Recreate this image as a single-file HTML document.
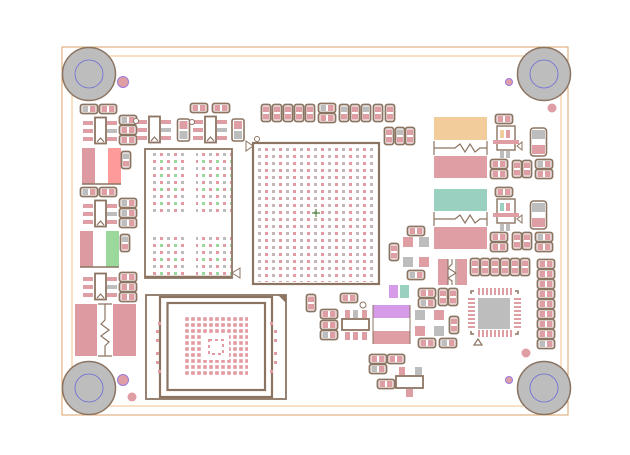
<!DOCTYPE html>
<html><head><meta charset="utf-8"><style>html,body{margin:0;padding:0;background:#fff}svg{display:block}</style></head>
<body>
<svg width="630" height="455" viewBox="0 0 630 455" xmlns="http://www.w3.org/2000/svg">
<defs>
<pattern id="bga" x="256" y="146" width="7" height="7" patternUnits="userSpaceOnUse"><rect x="2" y="2" width="3" height="3" fill="#e39aa2"/></pattern>
<pattern id="bga2" x="256" y="146" width="14" height="7" patternUnits="userSpaceOnUse"><rect x="2" y="2" width="3" height="3" fill="#bdbdbd"/></pattern>
<pattern id="lb" x="151" y="151" width="7" height="7" patternUnits="userSpaceOnUse"><rect x="2" y="2" width="3" height="3" fill="#e39aa2"/></pattern>
<pattern id="lbg" x="151" y="151" width="14" height="14" patternUnits="userSpaceOnUse"><rect x="2" y="2" width="3" height="3" fill="#bdbdbd"/><rect x="9" y="9" width="3" height="3" fill="#9bd89b"/></pattern>
<pattern id="bc" x="184" y="316" width="6" height="6" patternUnits="userSpaceOnUse"><rect x="1.2" y="1.2" width="3.6" height="3.6" fill="#e39aa2"/></pattern>
<symbol id="vp" viewBox="0 0 10 18" overflow="visible"><rect x="0.5" y="0.5" width="9" height="17" rx="2" fill="#fff" stroke="#8c7462" stroke-width="1.8"/><rect x="2" y="2.5" width="6" height="5.5" fill="#df9da4"/><rect x="2" y="10" width="6" height="5.5" fill="#df9da4"/></symbol>
<symbol id="vpg" viewBox="0 0 10 18" overflow="visible"><rect x="0.5" y="0.5" width="9" height="17" rx="2" fill="#fff" stroke="#8c7462" stroke-width="1.8"/><rect x="2" y="2.5" width="6" height="5.5" fill="#bdbdbd"/><rect x="2" y="10" width="6" height="5.5" fill="#df9da4"/></symbol>
<symbol id="hp" viewBox="0 0 18 10" overflow="visible"><rect x="0.5" y="0.5" width="17" height="9" rx="2" fill="#fff" stroke="#8c7462" stroke-width="1.8"/><rect x="2.5" y="2" width="5.5" height="6" fill="#df9da4"/><rect x="10" y="2" width="5.5" height="6" fill="#df9da4"/></symbol>
<symbol id="hpg" viewBox="0 0 18 10" overflow="visible"><rect x="0.5" y="0.5" width="17" height="9" rx="2" fill="#fff" stroke="#8c7462" stroke-width="1.8"/><rect x="2.5" y="2" width="5.5" height="6" fill="#bdbdbd"/><rect x="10" y="2" width="5.5" height="6" fill="#df9da4"/></symbol>
<symbol id="sot" viewBox="0 0 36 28" overflow="visible"><rect x="0" y="4" width="10" height="4" fill="#df9da4"/><rect x="0" y="12" width="10" height="4" fill="#df9da4"/><rect x="0" y="20" width="10" height="4" fill="#df9da4"/><rect x="24" y="4" width="10" height="4" fill="#df9da4"/><rect x="24" y="12" width="10" height="4" fill="#bdbdbd"/><rect x="24" y="20" width="10" height="4" fill="#df9da4"/><rect x="12" y="0.5" width="11" height="26" fill="#fff" stroke="#8c7462" stroke-width="1.8"/><path d="M14 25 L17.5 21 L21 25" fill="none" stroke="#8c7462" stroke-width="1.2"/></symbol>
<symbol id="mount" viewBox="0 0 56 56" overflow="visible"><circle cx="28" cy="28" r="26.5" fill="#bdbdbd" stroke="#8c7462" stroke-width="1.5"/><circle cx="28" cy="28" r="14" fill="none" stroke="#6a6ad8" stroke-width="0.8"/></symbol>
</defs>

<rect x="62" y="47" width="506" height="368" fill="none" stroke="#d9a36a" stroke-width="1"/>
<rect x="72" y="56" width="489" height="350" fill="none" stroke="#f2c08a" stroke-width="1"/>

<use href="#mount" x="61" y="46" width="56" height="56"/>
<use href="#mount" x="516" y="46" width="56" height="56"/>
<use href="#mount" x="61" y="360" width="56" height="56"/>
<use href="#mount" x="516" y="360" width="56" height="56"/>
<circle cx="123" cy="82" r="5.5" fill="#df9da4" stroke="#9a7ae0" stroke-width="1"/>
<circle cx="123" cy="380" r="5.5" fill="#df9da4" stroke="#9a7ae0" stroke-width="1"/>
<circle cx="509" cy="82" r="3.5" fill="#df9da4" stroke="#9a7ae0" stroke-width="1"/>
<circle cx="509" cy="380" r="3.5" fill="#df9da4" stroke="#9a7ae0" stroke-width="1"/>
<circle cx="552" cy="108" r="4.5" fill="#df9da4"/>
<circle cx="526" cy="353" r="4.5" fill="#df9da4"/>
<circle cx="132" cy="397" r="4.5" fill="#df9da4"/>

<use href="#hpg" x="80" y="104" width="18" height="10"/>
<use href="#hp" x="99" y="104" width="18" height="10"/>
<use href="#sot" x="83" y="117" width="36" height="28"/>
<use href="#hpg" x="119" y="115" width="18" height="10"/>
<use href="#hp" x="119" y="125" width="18" height="10"/>
<use href="#hp" x="119" y="135" width="18" height="10"/>
<rect x="82" y="148" width="13" height="36" fill="#dd9aa0"/><rect x="108" y="148" width="13" height="36" fill="#ff9a9a"/><line x1="82" y1="184" x2="121" y2="184" stroke="#8c7462" stroke-width="1.5"/>
<use href="#vpg" x="121" y="151" width="10" height="18"/>

<use href="#hpg" x="80" y="187" width="18" height="10"/>
<use href="#hp" x="99" y="187" width="18" height="10"/>
<use href="#sot" x="83" y="200" width="36" height="28"/>
<use href="#hpg" x="119" y="198" width="18" height="10"/>
<use href="#hpg" x="119" y="208" width="18" height="10"/>
<use href="#hpg" x="119" y="218" width="18" height="10"/>
<rect x="80" y="231" width="13" height="36" fill="#dd9aa0"/><rect x="106" y="231" width="13" height="36" fill="#9bd89b"/><line x1="80" y1="267" x2="119" y2="267" stroke="#8c7462" stroke-width="1.5"/>
<use href="#vpg" x="120" y="234" width="10" height="18"/>

<use href="#sot" x="83" y="273" width="36" height="28"/>
<use href="#hp" x="119" y="272" width="18" height="10"/>
<use href="#hp" x="119" y="282" width="18" height="10"/>
<use href="#hp" x="119" y="292" width="18" height="10"/>
<rect x="75" y="304" width="22" height="52" fill="#dd9aa0"/><rect x="113" y="304" width="23" height="52" fill="#dd9aa0"/>
<path d="M98 304 H112 M98 356 H112 M105 304 V320 L101 324 L109 330 L101 336 L109 342 L105 346 V356" fill="none" stroke="#8c7462" stroke-width="1.2"/>

<use href="#hp" x="190" y="103" width="18" height="10"/>
<use href="#hp" x="212" y="103" width="18" height="10"/>
<use href="#sot" x="137" y="116" width="36" height="28"/>
<use href="#sot" x="193" y="116" width="36" height="28"/>
<rect x="177.5" y="119" width="12" height="22" rx="2" fill="#fff" stroke="#8c7462" stroke-width="1.6"/><rect x="179.5" y="121" width="8" height="8" fill="#df9da4"/><rect x="179.5" y="131" width="8" height="8" fill="#bdbdbd"/>
<rect x="232" y="119" width="12" height="22" rx="2" fill="#fff" stroke="#8c7462" stroke-width="1.6"/><rect x="234" y="121" width="8" height="8" fill="#df9da4"/><rect x="234" y="131" width="8" height="8" fill="#bdbdbd"/>
<circle cx="192" cy="122" r="2.5" fill="#fff" stroke="#8c7462"/><circle cx="136" cy="121" r="2.5" fill="#fff" stroke="#8c7462"/><circle cx="257" cy="139" r="2.5" fill="#fff" stroke="#8c7462"/>

<rect x="145" y="149" width="87" height="129" fill="#fff" stroke="#8c7462" stroke-width="1.8"/>
<line x1="145" y1="277" x2="232" y2="277" stroke="#8c7462" stroke-width="2.5"/>
<rect x="151" y="151" width="35" height="63" fill="url(#lb)"/><rect x="151" y="151" width="35" height="63" fill="url(#lbg)"/>
<rect x="196" y="151" width="35" height="63" fill="url(#lb)"/><rect x="196" y="151" width="35" height="63" fill="url(#lbg)"/>
<rect x="151" y="235" width="35" height="42" fill="url(#lb)"/><rect x="151" y="235" width="35" height="42" fill="url(#lbg)"/>
<rect x="196" y="235" width="35" height="42" fill="url(#lb)"/><rect x="196" y="235" width="35" height="42" fill="url(#lbg)"/>
<path d="M240 268 L232 273 L240 278 Z" fill="#fff" stroke="#8c7462"/>

<use href="#vp" x="261" y="104" width="10" height="18"/>
<use href="#vp" x="272" y="104" width="10" height="18"/>
<use href="#vp" x="283" y="104" width="10" height="18"/>
<use href="#vp" x="294" y="104" width="10" height="18"/>
<use href="#vp" x="305" y="104" width="10" height="18"/>
<use href="#hpg" x="318" y="103" width="18" height="10"/>
<use href="#hp" x="318" y="113" width="18" height="10"/>
<use href="#vpg" x="339" y="104" width="10" height="18"/>
<use href="#vp" x="350" y="104" width="10" height="18"/>
<use href="#vpg" x="361" y="104" width="10" height="18"/>
<use href="#vp" x="373" y="104" width="10" height="18"/>
<use href="#vp" x="385" y="104" width="10" height="18"/>
<use href="#vp" x="384" y="127" width="10" height="18"/>
<use href="#vpg" x="395" y="127" width="10" height="18"/>
<use href="#vp" x="405" y="127" width="10" height="18"/>

<rect x="253" y="143" width="126" height="141" fill="#fff" stroke="#8c7462" stroke-width="2.2"/>
<rect x="256" y="146" width="121" height="136" fill="url(#bga)"/>
<rect x="256" y="146" width="121" height="136" fill="url(#bga2)" opacity="0.8"/>
<path d="M246 141 L253 146 L246 151 Z" fill="#fff" stroke="#8c7462"/>
<path d="M312 213 H320 M316 209 V217" stroke="#5a8a4a" stroke-width="1.2"/>

<rect x="146" y="295" width="140" height="104" fill="#fff" stroke="#8c7462" stroke-width="1.8"/>
<rect x="160" y="297" width="112" height="100" fill="none" stroke="#8c7462" stroke-width="2.2"/>
<rect x="167.5" y="303" width="97.5" height="87" fill="none" stroke="#8c7462" stroke-width="2.2"/>
<path d="M278 295 H286 V303 Z" fill="#8c7462"/>
<rect x="185" y="316" width="63" height="61" fill="url(#bc)"/>
<rect x="203" y="334" width="26" height="26" fill="#fff"/>
<rect x="209" y="340" width="14" height="14" fill="none" stroke="#e39aa2" stroke-width="2" stroke-dasharray="3 3"/>
<g fill="#e39aa2"><rect x="158" y="322" width="3" height="3"/><rect x="156" y="330" width="3" height="3"/><rect x="156" y="339" width="3" height="3"/><rect x="156" y="352" width="3" height="3"/><rect x="156" y="361" width="3" height="3"/><rect x="158" y="370" width="3" height="3"/><rect x="270" y="322" width="3" height="3"/><rect x="274" y="330" width="3" height="3"/><rect x="274" y="339" width="3" height="3"/><rect x="274" y="352" width="3" height="3"/><rect x="274" y="361" width="3" height="3"/><rect x="270" y="370" width="3" height="3"/></g>

<use href="#vp" x="306" y="294" width="10" height="18"/>
<use href="#hp" x="340" y="293" width="18" height="10"/>
<circle cx="363" cy="305" r="3" fill="#fff" stroke="#8c7462"/>
<use href="#hp" x="320" y="309" width="18" height="10"/>
<use href="#hp" x="320" y="320" width="18" height="10"/>
<use href="#hpg" x="320" y="330" width="18" height="10"/>
<rect x="345" y="310" width="5" height="8" fill="#df9da4"/><rect x="353" y="310" width="5" height="8" fill="#bdbdbd"/><rect x="362" y="310" width="5" height="8" fill="#df9da4"/>
<rect x="345" y="332" width="5" height="8" fill="#df9da4"/><rect x="353" y="332" width="5" height="8" fill="#df9da4"/><rect x="362" y="332" width="5" height="8" fill="#df9da4"/>
<rect x="342" y="319" width="27" height="11" fill="#fff" stroke="#8c7462" stroke-width="1.8"/>
<rect x="373" y="305" width="37" height="13" fill="#d59ae8"/><rect x="373" y="331" width="37" height="13" fill="#df9da4"/><line x1="373" y1="305" x2="373" y2="344" stroke="#8c7462"/><line x1="410" y1="305" x2="410" y2="344" stroke="#8c7462"/>
<rect x="389" y="285" width="9" height="13" fill="#d59ae8"/><rect x="400" y="285" width="9" height="13" fill="#99d0c0"/>

<use href="#hp" x="369" y="354" width="18" height="10"/>
<use href="#hp" x="387" y="354" width="18" height="10"/>
<use href="#hpg" x="369" y="364" width="18" height="10"/>
<use href="#hp" x="377" y="379" width="18" height="10"/>
<rect x="399" y="367" width="6" height="8" fill="#df9da4"/><rect x="415" y="367" width="7" height="8" fill="#bdbdbd"/>
<rect x="396" y="376" width="27" height="12" fill="#fff" stroke="#8c7462" stroke-width="1.8"/>
<rect x="406" y="389" width="7" height="8" fill="#df9da4"/>

<use href="#hp" x="407" y="226" width="18" height="10"/>
<use href="#vp" x="389" y="243" width="10" height="18"/>
<rect x="403" y="237" width="10" height="10" fill="#df9da4"/><rect x="419" y="237" width="10" height="10" fill="#bdbdbd"/>
<rect x="403" y="257" width="10" height="10" fill="#bdbdbd"/><rect x="419" y="257" width="10" height="10" fill="#df9da4"/>
<use href="#hpg" x="407" y="270" width="18" height="10"/>
<use href="#hp" x="418" y="288" width="18" height="10"/>
<use href="#hpg" x="418" y="298" width="18" height="10"/>
<use href="#vp" x="438" y="288" width="10" height="18"/>
<use href="#vp" x="448" y="288" width="10" height="18"/>
<rect x="415" y="310" width="10" height="10" fill="#bdbdbd"/><rect x="434" y="310" width="10" height="10" fill="#df9da4"/>
<rect x="415" y="326" width="10" height="10" fill="#df9da4"/><rect x="434" y="326" width="10" height="10" fill="#bdbdbd"/>
<use href="#vp" x="449" y="316" width="10" height="18"/>
<use href="#hp" x="418" y="338" width="18" height="10"/>
<use href="#hpg" x="439" y="338" width="18" height="10"/>
<rect x="438" y="259" width="10" height="26" fill="#df9da4"/><rect x="457" y="259" width="10" height="26" fill="#df9da4"/>
<path d="M448 259 V285 M456 259 V285 M452 259 V264 L448 268 L456 273 L448 278 L452 281 V285" fill="none" stroke="#8c7462" stroke-width="1.1"/>

<rect x="434" y="117" width="53" height="23" fill="#f3cc9c"/>
<path d="M434 141 V155 M487 141 V155 M434 148 H455 L460 144 L465 152 L470 144 L475 152 L480 148 H487" fill="none" stroke="#8c7462" stroke-width="1.2"/>
<rect x="434" y="156" width="53" height="22" fill="#df9da4"/>
<rect x="434" y="189" width="53" height="22" fill="#99d0c0"/>
<path d="M434 212 V226 M487 212 V226 M434 219 H455 L460 215 L465 223 L470 215 L475 223 L480 219 H487" fill="none" stroke="#8c7462" stroke-width="1.2"/>
<rect x="434" y="227" width="53" height="22" fill="#df9da4"/>

<use href="#hp" x="495" y="114" width="18" height="10"/>
<rect x="497" y="126" width="18" height="24" fill="#fff" stroke="#8c7462" stroke-width="1.4"/>
<rect x="493" y="140" width="26" height="4" fill="#df9da4"/><rect x="500" y="130" width="4" height="8" fill="#f3cc9c"/><rect x="506" y="130" width="4" height="8" fill="#df9da4"/>
<rect x="500" y="151" width="4" height="7" fill="#bdbdbd"/><rect x="506" y="151" width="4" height="7" fill="#bdbdbd"/>
<path d="M517 146 L522 142 L522 150 Z" fill="#fff" stroke="#8c7462"/>
<rect x="530.5" y="128" width="16" height="28" rx="3" fill="#fff" stroke="#8c7462" stroke-width="1.6"/><rect x="532" y="130" width="13" height="9" fill="#bdbdbd"/><rect x="532" y="145" width="13" height="9" fill="#df9da4"/>
<use href="#hp" x="490" y="159" width="18" height="10"/>
<use href="#hp" x="490" y="169" width="18" height="10"/>
<use href="#vp" x="512" y="160" width="10" height="18"/>
<use href="#vp" x="522" y="160" width="10" height="18"/>
<use href="#hpg" x="535" y="159" width="18" height="10"/>
<use href="#hp" x="535" y="169" width="18" height="10"/>

<use href="#hp" x="495" y="187" width="18" height="10"/>
<rect x="497" y="199" width="18" height="24" fill="#fff" stroke="#8c7462" stroke-width="1.4"/>
<rect x="493" y="213" width="26" height="4" fill="#df9da4"/><rect x="500" y="203" width="4" height="8" fill="#99d0c0"/><rect x="506" y="203" width="4" height="8" fill="#df9da4"/>
<rect x="500" y="224" width="4" height="7" fill="#bdbdbd"/><rect x="506" y="224" width="4" height="7" fill="#bdbdbd"/>
<path d="M517 219 L522 215 L522 223 Z" fill="#fff" stroke="#8c7462"/>
<rect x="530.5" y="201" width="16" height="28" rx="3" fill="#fff" stroke="#8c7462" stroke-width="1.6"/><rect x="532" y="203" width="13" height="9" fill="#bdbdbd"/><rect x="532" y="218" width="13" height="9" fill="#df9da4"/>
<use href="#hp" x="490" y="232" width="18" height="10"/>
<use href="#hp" x="490" y="242" width="18" height="10"/>
<use href="#vp" x="512" y="232" width="10" height="18"/>
<use href="#vp" x="522" y="232" width="10" height="18"/>
<use href="#hpg" x="535" y="232" width="18" height="10"/>
<use href="#hp" x="535" y="242" width="18" height="10"/>

<use href="#vp" x="470" y="258" width="10" height="18"/>
<use href="#vp" x="480" y="258" width="10" height="18"/>
<use href="#vp" x="490" y="258" width="10" height="18"/>
<use href="#vp" x="500" y="258" width="10" height="18"/>
<use href="#vp" x="510" y="258" width="10" height="18"/>
<use href="#vp" x="520" y="258" width="10" height="18"/>
<use href="#hp" x="537" y="259" width="18" height="10"/>
<use href="#hp" x="537" y="269" width="18" height="10"/>
<use href="#hp" x="537" y="279" width="18" height="10"/>
<use href="#hp" x="537" y="289" width="18" height="10"/>
<use href="#hp" x="537" y="299" width="18" height="10"/>
<use href="#hp" x="537" y="309" width="18" height="10"/>
<use href="#hp" x="537" y="319" width="18" height="10"/>
<use href="#hp" x="537" y="329" width="18" height="10"/>
<use href="#hpg" x="537" y="339" width="18" height="10"/>

<rect x="471" y="291" width="47" height="43" fill="#fff" stroke="#8c7462" stroke-width="1.5"/>
<rect x="474" y="288" width="41" height="8" fill="#fff"/><rect x="474" y="329" width="41" height="8" fill="#fff"/><rect x="468" y="294" width="8" height="37" fill="#fff"/><rect x="514" y="294" width="8" height="37" fill="#fff"/>
<g fill="#df9da4">
<rect x="478" y="288" width="2" height="7"/><rect x="482" y="288" width="2" height="7"/><rect x="486" y="288" width="2" height="7"/><rect x="490" y="288" width="2" height="7"/><rect x="494" y="288" width="2" height="7"/><rect x="498" y="288" width="2" height="7"/><rect x="502" y="288" width="2" height="7"/><rect x="506" y="288" width="2" height="7"/><rect x="510" y="288" width="2" height="7"/>
<rect x="478" y="330" width="2" height="7"/><rect x="482" y="330" width="2" height="7"/><rect x="486" y="330" width="2" height="7"/><rect x="490" y="330" width="2" height="7"/><rect x="494" y="330" width="2" height="7"/><rect x="498" y="330" width="2" height="7"/><rect x="502" y="330" width="2" height="7"/><rect x="506" y="330" width="2" height="7"/><rect x="510" y="330" width="2" height="7"/>
<rect x="468" y="298" width="7" height="2"/><rect x="468" y="302" width="7" height="2"/><rect x="468" y="306" width="7" height="2"/><rect x="468" y="310" width="7" height="2"/><rect x="468" y="314" width="7" height="2"/><rect x="468" y="318" width="7" height="2"/><rect x="468" y="322" width="7" height="2"/><rect x="468" y="326" width="7" height="2"/>
<rect x="514" y="298" width="7" height="2"/><rect x="514" y="302" width="7" height="2"/><rect x="514" y="306" width="7" height="2"/><rect x="514" y="310" width="7" height="2"/><rect x="514" y="314" width="7" height="2"/><rect x="514" y="318" width="7" height="2"/><rect x="514" y="322" width="7" height="2"/><rect x="514" y="326" width="7" height="2"/>
</g>
<rect x="478" y="298" width="32" height="31" fill="#bdbdbd"/>
<path d="M474 345 L478 339 L482 345 Z" fill="#fff" stroke="#8c7462" stroke-width="1.2"/>
</svg>
</body></html>
